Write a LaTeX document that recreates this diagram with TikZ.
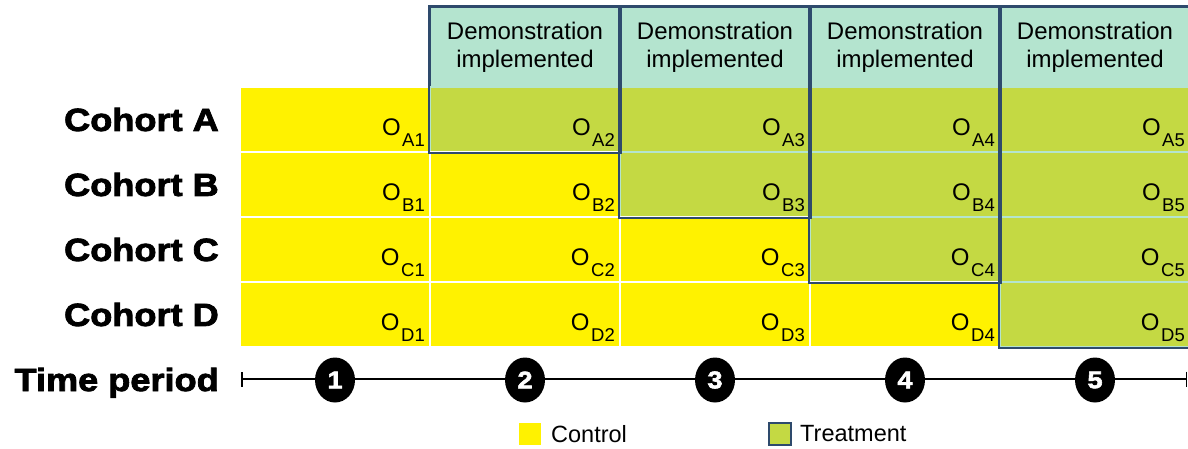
\documentclass[tikz,border=0pt]{standalone}
\usepackage{fontspec}
\setmainfont{Liberation Sans}
\newfontfamily\heavy[FakeBold=2.5,FakeStretch=1.13]{Liberation Sans Bold}
\usetikzlibrary{shapes.geometric,arrows.meta,calc}
\definecolor{ctrl}{HTML}{FFF200}
\definecolor{treat}{HTML}{C4D943}
\definecolor{mint}{HTML}{B4E4CF}
\definecolor{frame}{HTML}{2E4A6C}
\newcommand\obscell[5]{%
  \node[cellbox,#4] (#1) at (#2,#3) {};
  \node[obstext,anchor=base east] (#1t) at ($(#1.south east)+(-6,-18)$)
    {O\hspace{1.5pt}\raisebox{-11pt}{\fontsize{18.5}{18.5}\selectfont #5}};
}
\tikzset{
  cellbox/.style={rectangle,minimum width=190pt,minimum height=65pt,inner sep=0pt,line width=2pt},
  ctrlcell/.style={fill=ctrl,draw=white},
  treatcell/.style={fill=treat,draw=mint},
  obstext/.style={inner sep=0pt,font=\fontsize{24}{24}\selectfont},
  headbox/.style={rectangle,fill=mint,draw=frame,line width=2pt,minimum width=190pt,minimum height=80pt,
    inner sep=0pt,align=center,font=\fontsize{24}{28}\selectfont},
  frameline/.style={draw=frame,line width=2pt},
  cohort/.style={anchor=east,inner sep=0pt,font=\heavy\fontsize{32}{32}\selectfont},
  period/.style={ellipse,fill=black,minimum width=40pt,minimum height=45pt,inner sep=0pt,
    text=white,font=\heavy\fontsize{24}{24}\selectfont},
  axis/.style={line width=2.2pt,black},
  legsq/.style={rectangle,minimum width=22pt,minimum height=22pt,inner sep=0pt},
  legtext/.style={anchor=west,inner sep=0pt,font=\fontsize{23.5}{23.5}\selectfont}
}
\begin{document}
\begin{tikzpicture}[x=1pt,y=-1pt]
\useasboundingbox (0,0) rectangle (1188,448);
\fill[white] (0,0) rectangle (1188,448);
% headers
\node[headbox] (h2) at (525,47) {Demonstration\\implemented};
\node[headbox] (h3) at (715,47) {Demonstration\\implemented};
\node[headbox] (h4) at (905,47) {Demonstration\\implemented};
\node[headbox] (h5) at (1095,47) {Demonstration\\implemented};
% row A
\obscell{a1}{335}{119.5}{ctrlcell}{A1}
\obscell{a2}{525}{119.5}{treatcell}{A2}
\obscell{a3}{715}{119.5}{treatcell}{A3}
\obscell{a4}{905}{119.5}{treatcell}{A4}
\obscell{a5}{1095}{119.5}{treatcell}{A5}
% row B
\obscell{b1}{335}{184.5}{ctrlcell}{B1}
\obscell{b2}{525}{184.5}{ctrlcell}{B2}
\obscell{b3}{715}{184.5}{treatcell}{B3}
\obscell{b4}{905}{184.5}{treatcell}{B4}
\obscell{b5}{1095}{184.5}{treatcell}{B5}
% row C
\obscell{c1}{335}{249.5}{ctrlcell}{C1}
\obscell{c2}{525}{249.5}{ctrlcell}{C2}
\obscell{c3}{715}{249.5}{ctrlcell}{C3}
\obscell{c4}{905}{249.5}{treatcell}{C4}
\obscell{c5}{1095}{249.5}{treatcell}{C5}
% row D
\obscell{d1}{335}{314.5}{ctrlcell}{D1}
\obscell{d2}{525}{314.5}{ctrlcell}{D2}
\obscell{d3}{715}{314.5}{ctrlcell}{D3}
\obscell{d4}{905}{314.5}{ctrlcell}{D4}
\obscell{d5}{1095}{314.5}{treatcell}{D5}
% treatment frames
\draw[frameline] (h2.north west) rectangle (a2.south east);
\draw[frameline] (h3.north west) rectangle (b3.south east);
\draw[frameline] (h4.north west) rectangle (c4.south east);
\draw[frameline] (h5.north west) rectangle (d5.south east);
% cohort labels
\node[cohort] (la) at (219,119.5) {Cohort A};
\node[cohort] (lb) at (219,184.5) {Cohort B};
\node[cohort] (lc) at (219,249.5) {Cohort C};
\node[cohort] (ld) at (219,314.5) {Cohort D};
\node[cohort,anchor=base east] (lt) at (219,391) {Time period};
% time axis
\coordinate (tl) at (241,379);
\coordinate (tr) at (1187,379);
\draw[axis,{Bar[width=15pt,line width=1.5pt]}-{Bar[width=15pt,line width=1.5pt]}] (tl) -- (tr);
\node[period] (p1) at (335,380) {1};
\node[period] (p2) at (525,380) {2};
\node[period] (p3) at (715,380) {3};
\node[period] (p4) at (905,380) {4};
\node[period] (p5) at (1095,380) {5};
% legend
\node[legsq,fill=ctrl] (lgc) at (530,434) {};
\node[legtext] (lgct) at (551,434) {Control};
\node[legsq,fill=treat,draw=frame,line width=1.5pt] (lgt) at (780,434) {};
\node[legtext] (lgtt) at (800,434) {Treatment};
\end{tikzpicture}
\end{document}
